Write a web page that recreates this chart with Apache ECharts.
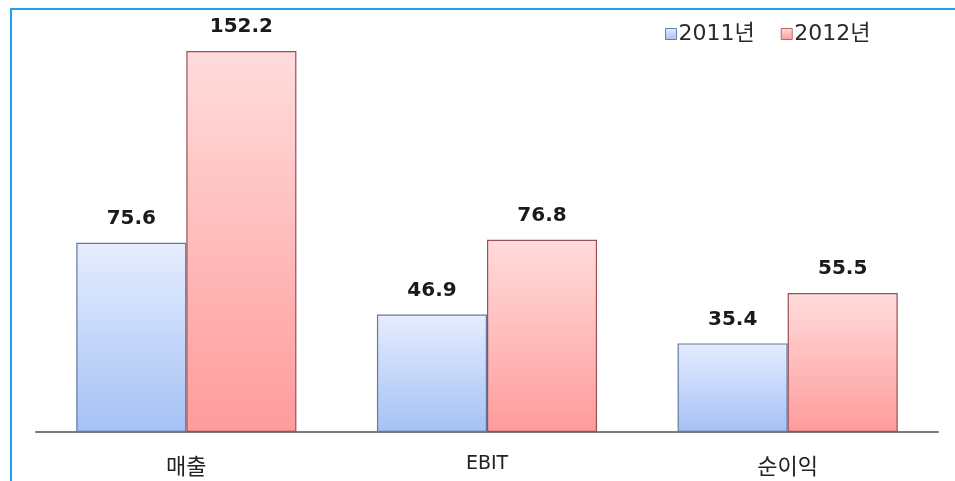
<!DOCTYPE html>
<html><head><meta charset="utf-8">
<script src="https://cdn.jsdelivr.net/npm/echarts@6/dist/echarts.min.js"></script>
<style>html,body{margin:0;padding:0;background:#fff}#c{width:955px;height:481px}</style>
</head><body><div id="c"></div>
<script>
const categories = ['매출', 'EBIT', '순이익'];
const seriesNames = ['2011년', '2012년'];
const values2011 = [75.6, 46.9, 35.4];
const values2012 = [152.2, 76.8, 55.5];

const chart = echarts.init(document.getElementById('c'), null, {renderer: 'canvas'});
const blueGrad = new echarts.graphic.LinearGradient(0, 0, 0, 1, [
  {offset: 0, color: '#e5edfe'}, {offset: 1, color: '#a5c1f5'}]);
const redGrad = new echarts.graphic.LinearGradient(0, 0, 0, 1, [
  {offset: 0, color: '#ffdcdc'}, {offset: 1, color: '#ff9b9b'}]);
const labelStyle = {show: true, position: 'top', distance: 14, fontFamily: 'DejaVu Sans', fontWeight: 'bold', fontSize: 20, color: '#1a1a1a'};

chart.setOption({
  animation: false,
  backgroundColor: '#fff',
  graphic: [
    {type: 'line', shape: {x1: 10, y1: 9, x2: 955, y2: 9}, style: {stroke: '#1ea4e6', lineWidth: 2}},
    {type: 'line', shape: {x1: 11, y1: 9, x2: 11, y2: 481}, style: {stroke: '#1ea4e6', lineWidth: 2}}
  ],
  legend: {
    top: 18, left: 660, itemGap: 26, itemWidth: 11, itemHeight: 11,
    icon: 'rect',
    textStyle: {fontFamily: 'DejaVu Sans, Noto Sans CJK KR', fontSize: 22, color: '#2a2a2a', padding: [0, 0, 0, -3]},
    data: [
      {name: seriesNames[0], itemStyle: {borderColor: '#6a7fa8', borderWidth: 1}},
      {name: seriesNames[1], itemStyle: {borderColor: '#b06a6a', borderWidth: 1}}
    ]
  },
  grid: {left: 36, width: 902, top: 31.5, bottom: 49},
  xAxis: {
    type: 'category', data: categories,
    axisLine: {lineStyle: {color: '#7a7a7a', width: 2}},
    axisTick: {show: false},
    axisLabel: {
      margin: 23, color: '#222', fontFamily: 'Noto Sans CJK KR', fontSize: 22,
      formatter: v => v === 'EBIT' ? '{s|' + v + '}' : v,
      rich: {s: {fontFamily: 'DejaVu Sans', fontSize: 19, color: '#222', padding: [0, 0, 10, 0]}}
    }
  },
  yAxis: {type: 'value', min: 0, max: 160, show: false, splitLine: {show: false}},
  series: [
    {name: seriesNames[0], type: 'bar', data: values2011, barGap: '0%', barCategoryGap: '26.8%',
     itemStyle: {color: blueGrad, borderColor: '#65779c', borderWidth: 1.2}, label: labelStyle},
    {name: seriesNames[1], type: 'bar', data: values2012,
     itemStyle: {color: redGrad, borderColor: '#9a4f55', borderWidth: 1.2}, label: labelStyle}
  ]
});
</script></body></html>
